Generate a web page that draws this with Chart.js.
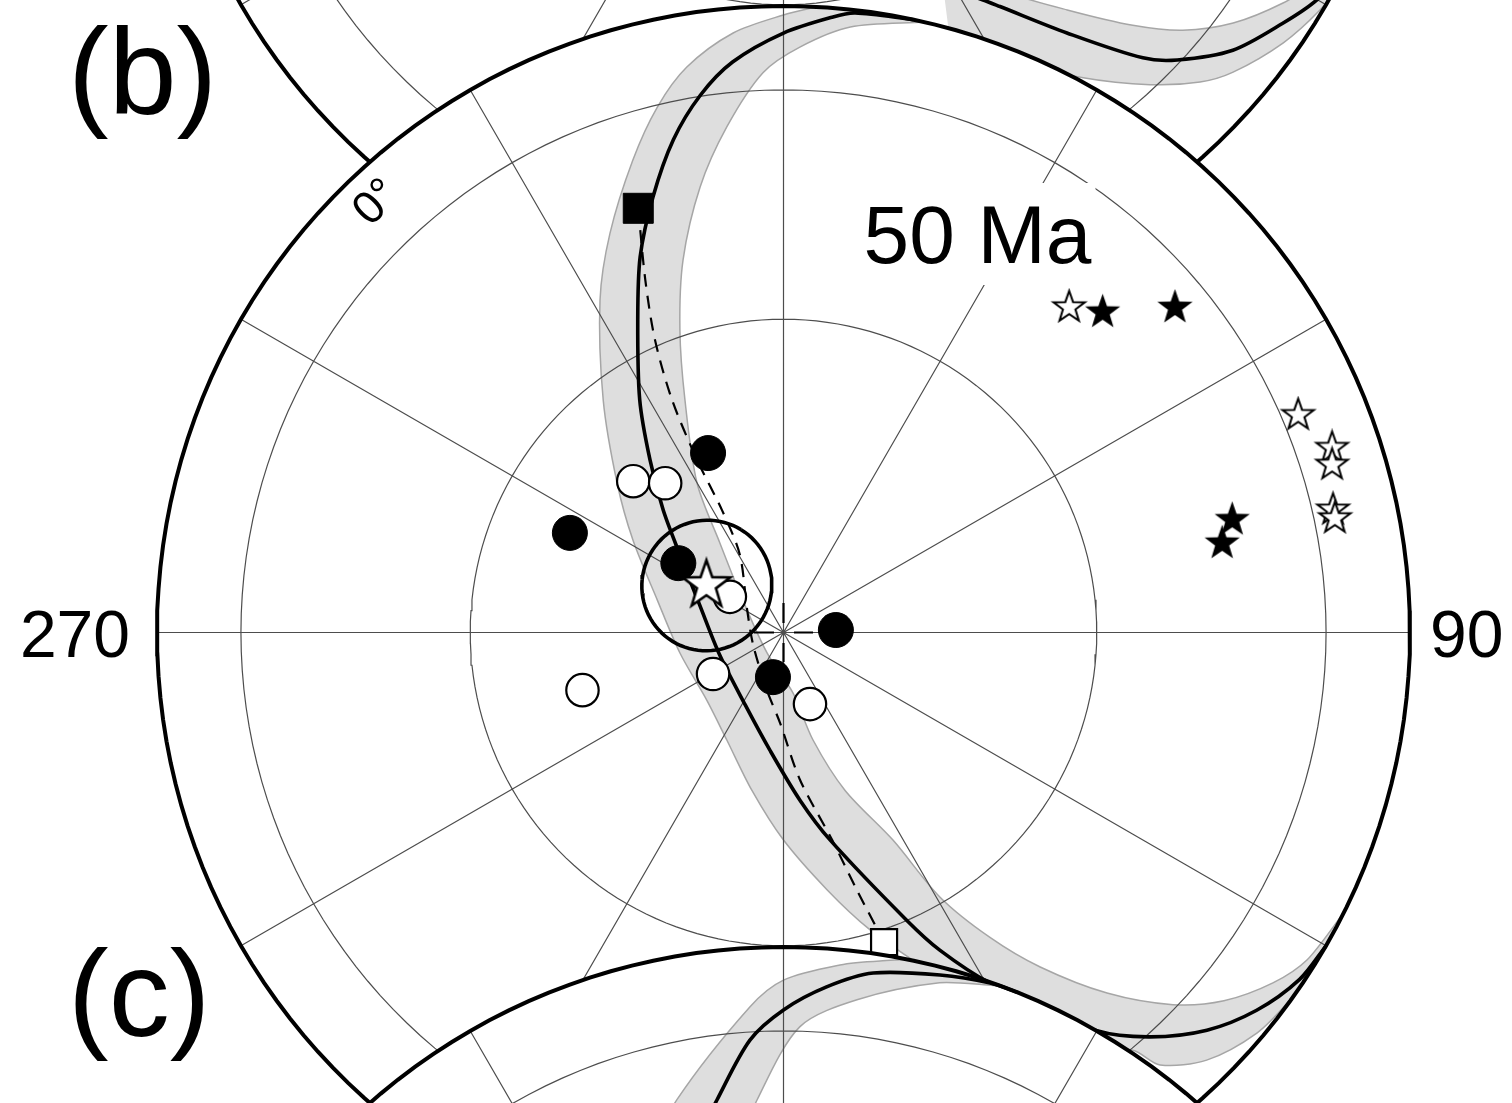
<!DOCTYPE html>
<html>
<head>
<meta charset="utf-8">
<script src="https://cdn.jsdelivr.net/npm/chart.js@4.4.1/dist/chart.umd.min.js"></script>
<style>
  html, body { margin: 0; padding: 0; background: #fff; }
  #polePlot { display: block; }
</style>
</head>
<body>
<canvas id="polePlot" width="1512" height="1103"></canvas>
<script>
// all positions are longitude / latitude in degrees, polar orthographic view

// panel (b): small circle and its band
const curveLon = [12, 6.6, 4.6, 0, 354.9, 351.2, 347.4, 343.3, 339.1, 335.0, 328.3, 322.3, 315.5, 306.8, 288.2, 250.5, 208.0, 186.6, 174.4, 167.4, 156.8, 153.8, 149.5, 145.3, 141.8, 137.8, 133.2, 128.6, 123.9, 120];
const curveLat = [0, 5.5, 9.7, 16.9, 23.9, 29.8, 36.3, 43.5, 50.1, 56.6, 64.1, 69.6, 74.1, 78.1, 81.9, 83.8, 82.5, 79.1, 74.4, 70.2, 60.0, 55.6, 49.5, 44.0, 36.0, 29.4, 22.0, 14.9, 7.0, 0];
const bandOuterLon = [3, 0, 355.2, 350.3, 346.5, 342.3, 336.5, 331.1, 322.2, 311.9, 301.6, 284.4, 258.8, 228.6, 207.7, 191.3, 180.1, 170.4, 163.8, 157.7, 152.2, 146.2, 140.1, 138.95, 135.3, 130.2, 126.0, 123.5];
const bandOuterLat = [0, 9.7, 16.2, 23.7, 30.4, 37.7, 46.0, 52.7, 62.0, 69.1, 73.6, 78.0, 80.3, 80.6, 78.8, 75.1, 70.7, 65.4, 60.4, 55.0, 47.8, 37.6, 29.65, 23.75, 16.2, 8.1, 2.7, 0];
const bandInnerLon = [13, 6.3, 1.6, 357.9, 353.6, 349.4, 344.9, 341.1, 337.05, 329.95, 324.6, 308.7, 218.8, 171.1, 164.65, 158.7, 152.2, 149.4, 145.9, 142.5, 138.1, 133.7, 129.9, 125.6, 122.0, 116.75];
const bandInnerLat = [0, 13.5, 20.8, 26.6, 35.7, 43.65, 52.0, 59.3, 66.2, 74.0, 79.9, 85.2, 87.6, 84.4, 79.75, 74.3, 68.0, 60.6, 54.0, 47.7, 39.35, 30.7, 23.6, 16.1, 9.7, 0];

// great circle between the two squares
const dashLon = [341.1, 338.6, 336.3, 334.4, 333.4, 333.3, 330.7, 301.6, 247.7, 196.0, 182.2, 173.6, 166.8, 164.1, 162.0];
const dashLat = [44.3, 52.8, 59.3, 65.7, 72.1, 77.4, 81.8, 86.1, 87.0, 84.5, 81.7, 76.3, 70.1, 64.7, 58.7];

// poles
const solidPoleLon = [337.2, 295.0, 303.4, 87.3, 193.3];
const solidPoleLat = [71.9, 67.9, 78.4, 85.2, 85.8];
const openPoleLon = [315.2, 321.6, 303.6, 239.5, 254.0, 159.7];
const openPoleLat = [70.1, 72.3, 84.1, 82.5, 70.5, 83.0];
const meanLon = 301.5, meanLat = 81.7, meanA95 = 6.0;
const squareLon = [341.1, 162.0];
const squareLat = [44.3, 58.7];
const solidStarLon = [44.9, 50.3, 75.9, 78.5];
const solidStarLat = [43.8, 35.7, 42.4, 44.4];
const openStarLon = [41.3, 67.1, 71.4, 73.0, 77.4, 78.3];
const openStarLat = [46.3, 26.9, 22.5, 23.7, 26.0, 26.0];
const crossColat = 2.7;

// panel (a) above, only its lower edge shows
const upperCurveLon = [152, 147.1, 145.5, 140.3, 135.55, 133.1, 128.6, 123.6, 120.0, 116];
const upperCurveLat = [58, 54.1, 52.4, 44.9, 35.0, 30.6, 23.4, 16.9, 10.4, 0];
const upperInnerLon = [150, 144.05, 138.3, 133.7, 130.3, 126.4, 121.95, 119.1, 113];
const upperInnerLat = [60, 53.9, 47.1, 39.55, 33.3, 26.9, 20.0, 15.8, 0];
const upperOuterLon = [154.5, 149.4, 142.2, 137.0, 133.15, 130.25, 125.1, 120.7, 118.5];
const upperOuterLat = [51.9, 47.2, 38.7, 30.9, 24.3, 19.9, 12.8, 5.2, 0];

// panel (c) below, only its upper edge shows
const lowerCurveLon = [348, 352.0, 356.4, 0, 4.2, 8.5, 14.65, 19.3, 22];
const lowerCurveLat = [46, 40.25, 31.45, 25.9, 20.15, 14.3, 9.1, 3.1, 0];
const lowerOuterLon = [343, 347.3, 356.6, 0, 5.3, 8.95, 12];
const lowerOuterLat = [45, 39.2, 25.05, 18.7, 12.7, 8.2, 0];
const lowerInnerLon = [354, 356.8, 1.7, 7.3, 14.8, 20];
const lowerInnerLat = [47, 40.8, 29.2, 22.6, 12.8, 0];

const latRings = [30, 60];
const lonStep = 30;

// layout: panels stacked, unit = limb radius
const PANEL_STEP = 941 / 626.5;
const X_MIN = -783.5 / 626.5, X_MAX = (1512 - 783.5) / 626.5;
const Y_MIN = (632.5 - 1103) / 626.5, Y_MAX = 632.5 / 626.5;
const D2R = Math.PI / 180;
const GRID = '#4d4d4d';
const BAND_FILL = '#dedede';
const BAND_EDGE = '#a6a6a6';
const SMOOTH = 0.3;

function toXY(lon, lat, cy) {
  const r = Math.cos(lat * D2R);
  return { x: r * Math.sin(lon * D2R), y: cy + r * Math.cos(lon * D2R) };
}
function track(lons, lats, cy) {
  return lons.map((lo, i) => toXY(lo, lats[i], cy));
}
function circlePts(cy, r) {
  const pts = [];
  for (let a = 0; a <= 360; a += 2) pts.push({ x: r * Math.sin(a * D2R), y: cy + r * Math.cos(a * D2R) });
  return pts;
}
const GAP = { x: NaN, y: NaN };
function gridPts(cy) {
  let pts = [];
  latRings.forEach(lat => { pts = pts.concat(circlePts(cy, Math.cos(lat * D2R))); pts.push(GAP); });
  for (let lon = 0; lon < 360; lon += lonStep) {
    pts.push({ x: 0, y: cy }, toXY(lon, 0, cy), GAP);
  }
  return pts;
}
function smallCircle(lon0, lat0, rad, cy) {
  const P = [Math.cos(lat0 * D2R) * Math.sin(lon0 * D2R), Math.cos(lat0 * D2R) * Math.cos(lon0 * D2R), Math.sin(lat0 * D2R)];
  let u = [P[1], -P[0], 0];
  const n = Math.hypot(u[0], u[1]);
  u = [u[0] / n, u[1] / n, 0];
  const v = [P[1] * u[2] - P[2] * u[1], P[2] * u[0] - P[0] * u[2], P[0] * u[1] - P[1] * u[0]];
  const a = rad * D2R, pts = [];
  for (let t = 0; t <= 360; t += 4) {
    const c = Math.cos(t * D2R), s = Math.sin(t * D2R);
    pts.push({
      x: P[0] * Math.cos(a) + (u[0] * c + v[0] * s) * Math.sin(a),
      y: cy + P[1] * Math.cos(a) + (u[1] * c + v[1] * s) * Math.sin(a)
    });
  }
  return pts;
}

function line(data, opts) {
  return Object.assign({ type: 'line', data, pointRadius: 0, borderWidth: 1, borderColor: '#000', fill: false, tension: 0 }, opts);
}
function marks(data, opts) {
  return Object.assign({ type: 'scatter', data, showLine: false }, opts);
}
function starImage(outerR, fill, lw) {
  const c = document.createElement('canvas');
  const s = Math.ceil(2 * (outerR + lw + 1));
  c.width = s; c.height = s;
  const g = c.getContext('2d');
  g.translate(s / 2, s / 2);
  g.beginPath();
  for (let i = 0; i < 10; i++) {
    const r = i % 2 === 0 ? outerR : outerR * 0.4;
    const ang = -Math.PI / 2 + i * Math.PI / 5;
    g.lineTo(r * Math.cos(ang), r * Math.sin(ang));
  }
  g.closePath();
  g.fillStyle = fill;
  g.fill();
  if (lw > 0) { g.lineWidth = lw; g.strokeStyle = '#000'; g.stroke(); }
  return c;
}

// white disk, grey band, graticule on top of the band
function panelBase(cy, band) {
  return [
    line(circlePts(cy, 1), { fill: 'shape', backgroundColor: '#fff', borderWidth: 0, borderColor: 'rgba(0,0,0,0)' }),
    band,
    line(gridPts(cy), { borderColor: GRID, borderWidth: 1.2 })
  ];
}
function bandSet(outL, outB, inL, inB, cy) {
  const pts = track(outL, outB, cy).concat(track(inL, inB, cy).reverse());
  return line(pts, { fill: 'shape', backgroundColor: BAND_FILL, borderColor: BAND_EDGE, borderWidth: 1.5, tension: SMOOTH });
}
const limbSet = cy => line(circlePts(cy, 1), { borderWidth: 4 });
const curveSet = (lons, lats, cy) => line(track(lons, lats, cy), { borderWidth: 3.6, tension: SMOOTH });

const layers = [];
// panel (a)
const cyA = PANEL_STEP;
layers.push(...panelBase(cyA, bandSet(upperOuterLon, upperOuterLat, upperInnerLon, upperInnerLat, cyA)));
layers.push(curveSet(upperCurveLon, upperCurveLat, cyA));
layers.push(limbSet(cyA));

// panel (b)
layers.push(...panelBase(0, bandSet(bandOuterLon, bandOuterLat, bandInnerLon, bandInnerLat, 0)));
layers.push(line(track(dashLon, dashLat, 0), { borderWidth: 2.2, borderDash: [13, 9], tension: SMOOTH }));
layers.push(curveSet(curveLon, curveLat, 0));
layers.push(line([toXY(270, 90 - crossColat, 0), toXY(90, 90 - crossColat, 0)], { borderWidth: 2.2, borderDash: [20, 20] }));
layers.push(line([toXY(0, 90 - crossColat, 0), toXY(180, 90 - crossColat, 0)], { borderWidth: 2.2, borderDash: [20, 20] }));
layers.push(marks(track(openPoleLon, openPoleLat, 0), { pointStyle: 'circle', pointRadius: 16.2, pointBackgroundColor: '#fff', pointBorderColor: '#000', pointBorderWidth: 2.2 }));
layers.push(marks(track(solidPoleLon, solidPoleLat, 0), { pointStyle: 'circle', pointRadius: 17.5, pointBackgroundColor: '#000', pointBorderColor: '#000', pointBorderWidth: 1 }));
layers.push(line(smallCircle(meanLon, meanLat, meanA95, 0), { borderWidth: 3.6 }));
layers.push(marks([toXY(meanLon, meanLat, 0)], { pointStyle: starImage(25, '#fff', 2.6), pointRadius: 25 }));
layers.push(marks([toXY(squareLon[0], squareLat[0], 0)], { pointStyle: 'rect', pointRadius: 21.2, pointBackgroundColor: '#000', pointBorderColor: '#000', pointBorderWidth: 1 }));
layers.push(marks([toXY(squareLon[1], squareLat[1], 0)], { pointStyle: 'rect', pointRadius: 18.4, pointBackgroundColor: '#fff', pointBorderColor: '#000', pointBorderWidth: 2.2 }));
layers.push(marks(track(openStarLon, openStarLat, 0), { pointStyle: starImage(16.5, '#fff', 2), pointRadius: 17 }));
layers.push(marks(track(solidStarLon, solidStarLat, 0), { pointStyle: starImage(18.5, '#000', 0), pointRadius: 18 }));
layers.push(limbSet(0));

// panel (c)
const cyC = -PANEL_STEP;
layers.push(...panelBase(cyC, bandSet(lowerOuterLon, lowerOuterLat, lowerInnerLon, lowerInnerLat, cyC)));
layers.push(curveSet(lowerCurveLon, lowerCurveLat, cyC));
layers.push(limbSet(cyC));

// first in list = drawn first
layers.forEach((d, i) => { d.order = layers.length - i; });

const FONT = '"Liberation Sans", Arial, Helvetica, sans-serif';
const labelPlugin = {
  id: 'panelText',
  afterDatasetsDraw(chart) {
    const { ctx } = chart;
    const sx = chart.scales.x, sy = chart.scales.y;
    const P = (ux, uy) => [sx.getPixelForValue(ux), sy.getPixelForValue(uy)];
    ctx.save();
    ctx.fillStyle = '#000';
    ctx.textBaseline = 'alphabetic';

    // age label with a white box over the meridian
    let [x, y] = P(0.3097, 0.5898);
    ctx.font = '82px ' + FONT;
    const w = ctx.measureText('50 Ma').width;
    ctx.fillStyle = '#fff';
    ctx.fillRect(x - w / 2 - 4, y - 80, w + 8, 102);
    ctx.fillStyle = '#000';
    ctx.textAlign = 'center';
    ctx.fillText('50 Ma', x, y);

    ctx.textAlign = 'left';
    ctx.font = '122px ' + FONT;
    [x, y] = P(-1.142, 0.8276);
    ctx.fillText('(b)', x, y);
    [x, y] = P(-1.142, -0.644);
    ctx.fillText('(c)', x, y);

    ctx.font = '66px ' + FONT;
    ctx.textAlign = 'right';
    [x, y] = P(-1.0431, -0.0391);
    ctx.fillText('270', x, y);
    ctx.textAlign = 'left';
    [x, y] = P(1.0319, -0.0391);
    ctx.fillText('90', x, y);

    // equator label along the limb
    [x, y] = P(-0.6489, 0.6856);
    ctx.translate(x, y);
    ctx.rotate(-Math.PI / 4);
    ctx.font = '46px ' + FONT;
    ctx.textAlign = 'center';
    ctx.textBaseline = 'middle';
    ctx.fillText('0°', 0, 0);
    ctx.restore();
  }
};

new Chart(document.getElementById('polePlot'), {
  type: 'scatter',
  data: { datasets: layers },
  options: {
    responsive: false,
    animation: false,
    events: [],
    layout: { padding: 0, autoPadding: false },
    scales: {
      x: { type: 'linear', min: X_MIN, max: X_MAX, display: false },
      y: { type: 'linear', min: Y_MIN, max: Y_MAX, display: false }
    },
    plugins: {
      legend: { display: false },
      tooltip: { enabled: false }
    }
  },
  plugins: [labelPlugin]
});
</script>
</body>
</html>
